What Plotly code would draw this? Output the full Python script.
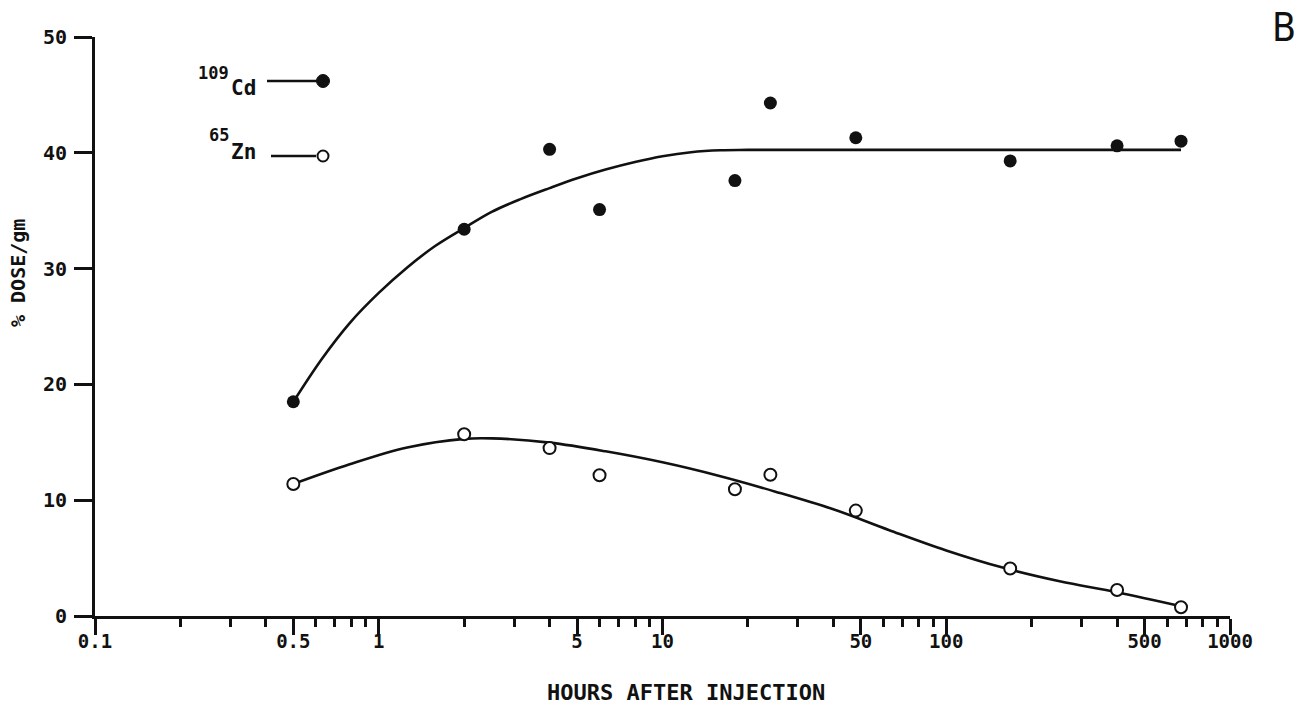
import plotly.graph_objects as go

# ---- data ----
cd_hours = [0.5, 2, 4, 6, 18, 24, 48, 168, 400, 672]
cd_dose = [18.5, 33.4, 40.3, 35.1, 37.6, 44.3, 41.3, 39.3, 40.6, 41.0]

zn_hours = [0.5, 2, 4, 6, 18, 24, 48, 168, 400, 672]
zn_dose = [11.4, 15.7, 14.5, 12.15, 10.95, 12.2, 9.1, 4.1, 2.25, 0.75]

# hand-drawn fitted curves
cd_fit_hours = [0.5, 0.63, 0.79, 1, 1.26, 1.58, 2, 2.5, 3.16, 4, 5, 6.3, 8, 10, 12.6, 16, 20, 100, 672]
cd_fit_dose = [18.5, 22.2, 25.3, 27.9, 30.1, 31.95, 33.5, 34.9, 36.0, 36.95, 37.8, 38.55, 39.2,
               39.7, 40.05, 40.22, 40.25, 40.25, 40.25]

zn_fit_hours = [0.5, 0.79, 1.26, 2, 2.5, 4, 6.3, 10, 16, 25, 40, 63, 100, 158, 251, 400, 672]
zn_fit_dose = [11.4, 13.1, 14.55, 15.3, 15.34, 14.97, 14.22, 13.27, 12.07, 10.74, 9.21, 7.41,
               5.66, 4.18, 3.0, 2.05, 0.84]

x_tickvals = [0.1, 0.5, 1, 5, 10, 50, 100, 500, 1000]
x_ticktext = ["0.1", "0.5", "1", "5", "10", "50", "100", "500", "1000"]
x_minorvals = [0.2, 0.3, 0.4, 0.6, 0.7, 0.8, 0.9,
               2, 3, 4, 6, 7, 8, 9,
               20, 30, 40, 60, 70, 80, 90,
               200, 300, 400, 600, 700, 800, 900]
y_tickvals = [0, 10, 20, 30, 40, 50]

MONO = "DejaVu Sans Mono, Liberation Mono, monospace"
SANS = "DejaVu Sans Condensed, DejaVu Sans, sans-serif"
INK = "#111111"

fig = go.Figure()

fig.add_trace(go.Scatter(x=cd_fit_hours, y=cd_fit_dose, mode="lines",
                         line=dict(color=INK, width=2.6, shape="spline", smoothing=1.0),
                         showlegend=False, hoverinfo="skip"))
fig.add_trace(go.Scatter(x=zn_fit_hours, y=zn_fit_dose, mode="lines",
                         line=dict(color=INK, width=2.6, shape="spline", smoothing=1.0),
                         showlegend=False, hoverinfo="skip"))
fig.add_trace(go.Scatter(x=cd_hours, y=cd_dose, mode="markers", name="109Cd",
                         marker=dict(symbol="circle", size=13, color=INK,
                                     line=dict(color=INK, width=0)),
                         showlegend=False))
fig.add_trace(go.Scatter(x=zn_hours, y=zn_dose, mode="markers", name="65Zn",
                         marker=dict(symbol="circle", size=12, color="white",
                                     line=dict(color=INK, width=2)),
                         showlegend=False))

L, R, T, B = 95, 67, 37, 94
PW = 1297 - L - R
PH = 710 - T - B


def px(xp):
    return (xp - L) / PW


def py(yp):
    return (710 - B - yp) / PH


# ---- legend key (hand-drawn style) ----
shapes = [
    dict(type="line", xref="paper", yref="paper", x0=px(267), x1=px(317), y0=py(81), y1=py(81),
         line=dict(color=INK, width=2.5)),
    dict(type="circle", xref="paper", yref="paper", xsizemode="pixel", ysizemode="pixel",
         xanchor=px(323), yanchor=py(81), x0=-6.5, x1=6.5, y0=-6.5, y1=6.5,
         fillcolor=INK, line=dict(color=INK, width=1)),
    dict(type="line", xref="paper", yref="paper", x0=px(271), x1=px(316), y0=py(156), y1=py(156),
         line=dict(color=INK, width=2.5)),
    dict(type="circle", xref="paper", yref="paper", xsizemode="pixel", ysizemode="pixel",
         xanchor=px(323), yanchor=py(156), x0=-5.5, x1=5.5, y0=-5.5, y1=5.5,
         fillcolor="white", line=dict(color=INK, width=2)),
]


def ann(text, x, y, size, xanchor="center", family=MONO, angle=0):
    return dict(text=text, xref="paper", yref="paper", x=px(x), y=py(y),
                xanchor=xanchor, yanchor="middle", showarrow=False, textangle=angle,
                font=dict(family=family, size=size, color=INK))


annotations = [
    ann("<b>109</b>", 231, 73, 17, xanchor="right"),
    ann("<b>Cd</b>", 229, 88, 21, xanchor="left"),
    ann("<b>65</b>", 231, 135, 17, xanchor="right"),
    ann("<b>Zn</b>", 229, 152, 21, xanchor="left"),
    ann("<b>HOURS AFTER INJECTION</b>", 686, 692, 22),
    ann("<b>% DOSE/gm</b>", 18, 273, 20, angle=-90),
    ann("B", 1284, 27, 39, family=SANS),
]

fig.update_layout(
    width=1297, height=710,
    margin=dict(l=L, r=R, t=T, b=B, pad=0),
    paper_bgcolor="white", plot_bgcolor="white",
    showlegend=False,
    shapes=shapes, annotations=annotations,
    font=dict(family=MONO, color=INK),
)

fig.update_xaxes(
    type="log", range=[-1, 3],
    tickmode="array", tickvals=x_tickvals,
    ticktext=["<b>%s</b>" % t for t in x_ticktext],
    ticks="outside", ticklen=16, tickwidth=2.5, tickcolor=INK,
    ticklabelstandoff=-10,
    tickfont=dict(family=MONO, size=19, color=INK),
    minor=dict(tickmode="array", tickvals=x_minorvals, ticks="outside",
               ticklen=8, tickwidth=2.5, tickcolor=INK, showgrid=False),
    showline=True, linecolor=INK, linewidth=3,
    showgrid=False, zeroline=False,
)
fig.update_yaxes(
    range=[0, 50],
    tickmode="array", tickvals=y_tickvals,
    ticktext=["<b>%d</b>" % v for v in y_tickvals],
    ticks="outside", ticklen=18, tickwidth=2.5, tickcolor=INK,
    ticklabelstandoff=3,
    tickfont=dict(family=MONO, size=20, color=INK),
    showline=True, linecolor=INK, linewidth=3,
    showgrid=False, zeroline=False,
)

fig.write_html("out.html")
